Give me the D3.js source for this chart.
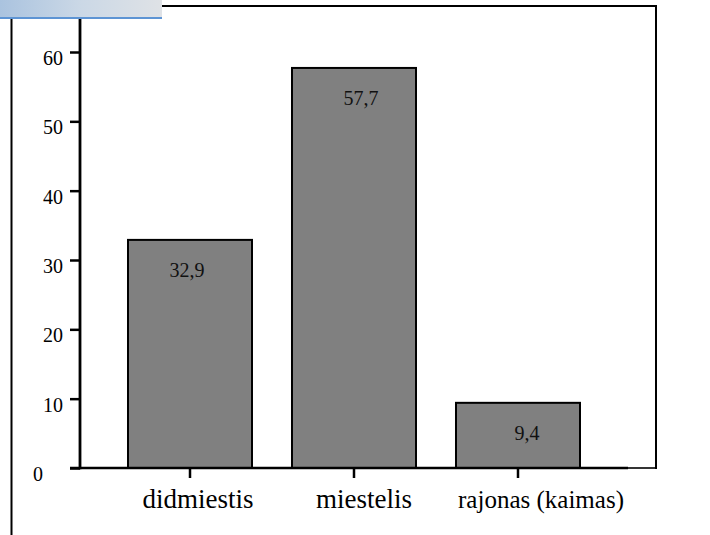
<!DOCTYPE html>
<html>
<head>
<meta charset="utf-8">
<script src="https://cdn.jsdelivr.net/npm/d3@7"></script>
<style>
  html, body { margin: 0; padding: 0; background: #fff; }
  svg { display: block; }
  svg text { font-family: "Liberation Serif", "Times New Roman", Times, "DejaVu Serif", serif; }
</style>
</head>
<body>
<svg id="chart" width="710" height="535"></svg>
<script>
const categories = ["didmiestis", "miestelis", "rajonas (kaimas)"];
const values = [32.9, 57.7, 9.4];
const valueLabels = ["32,9", "57,7", "9,4"];
const yTicks = [0, 10, 20, 30, 40, 50, 60];

const FONT = '"Liberation Serif", "Times New Roman", Times, "DejaVu Serif", serif';
const svg = d3.select("#chart");

const plotLeft = 80, plotRight = 628, plotTop = 6, frameRight = 656;
const y = d3.scaleLinear().domain([0, 60]).range([468, 52]);
const x = d3.scaleBand().domain(categories).range([plotLeft, plotRight])
  .paddingInner(0.2439).paddingOuter(0.2927);

const base = y(0);

// layout nudges (as in the original slide)
const valueNudge = [-3, 7, 9];
const catNudge = [8, 10, 23];
const catSize = [27, 27, 25];

// outer frame (top + right + bottom piece)
svg.append("line").attr("x1", plotLeft).attr("x2", frameRight)
  .attr("y1", plotTop).attr("y2", plotTop).attr("stroke", "#000").attr("stroke-width", 2);
svg.append("line").attr("x1", frameRight).attr("x2", frameRight)
  .attr("y1", plotTop - 1).attr("y2", base + 1).attr("stroke", "#000").attr("stroke-width", 2);
svg.append("line").attr("x1", plotRight - 2).attr("x2", frameRight)
  .attr("y1", base).attr("y2", base).attr("stroke", "#000").attr("stroke-width", 1.6);

// bars
svg.selectAll("rect.bar").data(values).join("rect")
  .attr("class", "bar")
  .attr("x", (d, i) => x(categories[i]))
  .attr("y", d => y(d))
  .attr("width", x.bandwidth())
  .attr("height", d => base - y(d))
  .attr("fill", "#808080")
  .attr("stroke", "#000")
  .attr("stroke-width", 2);

// value labels
svg.selectAll("text.val").data(values).join("text")
  .attr("class", "val")
  .attr("x", (d, i) => x(categories[i]) + x.bandwidth() / 2 + valueNudge[i])
  .attr("y", d => y(d) + 37)
  .attr("text-anchor", "middle")
  .style("font-family", FONT)
  .style("font-size", "20px")
  .attr("fill", "#111")
  .text((d, i) => valueLabels[i]);

// y axis
const yAxis = d3.axisLeft(y).tickValues(yTicks).tickSize(10).tickPadding(7)
  .tickFormat(d => String(d));
const gy = svg.append("g").attr("transform", `translate(${plotLeft},0)`).call(yAxis);
gy.attr("font-family", null).attr("font-size", null);
gy.select(".domain").remove();
gy.selectAll(".tick line").attr("stroke", "#000").attr("stroke-width", 2.5);
gy.selectAll(".tick text")
  .style("font-family", FONT).style("font-size", "20px").attr("fill", "#000")
  .attr("dy", "0.62em")
  .attr("x", d => d === 0 ? -37 : -17);
svg.append("line").attr("x1", plotLeft).attr("x2", plotLeft)
  .attr("y1", plotTop - 1).attr("y2", base + 1.25)
  .attr("stroke", "#000").attr("stroke-width", 2.8);

// x axis
const xAxis = d3.axisBottom(x).tickSize(10).tickPadding(20);
const gx = svg.append("g").attr("transform", `translate(0,${base})`).call(xAxis);
gx.attr("font-family", null).attr("font-size", null);
gx.select(".domain").remove();
gx.selectAll(".tick line").attr("stroke", "#000").attr("stroke-width", 2.5);
gx.selectAll(".tick text")
  .style("font-family", FONT)
  .style("font-size", (d, i) => catSize[i] + "px")
  .attr("fill", "#000")
  .attr("dx", (d, i) => catNudge[i])
  .attr("dy", null)
  .attr("y", 40);
svg.append("line").attr("x1", 70).attr("x2", plotRight)
  .attr("y1", base).attr("y2", base)
  .attr("stroke", "#000").attr("stroke-width", 2.5);

// left thin rule
svg.append("line").attr("x1", 11.5).attr("x2", 11.5)
  .attr("y1", 0).attr("y2", 535).attr("stroke", "#000").attr("stroke-width", 2);

// top-left banner
const defs = svg.append("defs");
const grad = defs.append("linearGradient").attr("id", "bann")
  .attr("x1", "0%").attr("x2", "100%").attr("y1", "0%").attr("y2", "0%");
grad.append("stop").attr("offset", "0%").attr("stop-color", "#aac3df");
grad.append("stop").attr("offset", "50%").attr("stop-color", "#cbd8e6");
grad.append("stop").attr("offset", "100%").attr("stop-color", "#dfe2e6");
svg.append("rect").attr("x", 0).attr("y", 0).attr("width", 162).attr("height", 17.5)
  .attr("fill", "url(#bann)");
svg.append("line").attr("x1", 0).attr("x2", 162).attr("y1", 18).attr("y2", 18)
  .attr("stroke", "#5d94d4").attr("stroke-width", 2);
</script>
</body>
</html>
